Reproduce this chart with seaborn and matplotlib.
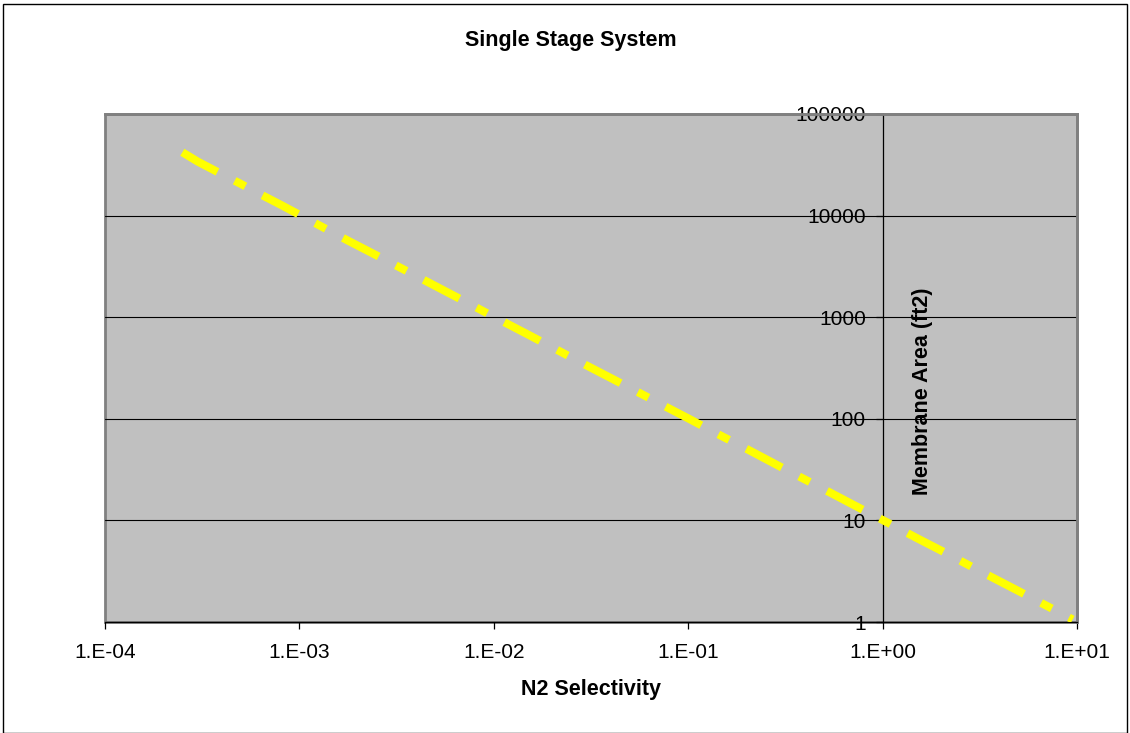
import matplotlib
matplotlib.use('Agg')
import matplotlib.pyplot as plt
import matplotlib.patches as mpatches
from matplotlib.ticker import FixedLocator, NullLocator
import seaborn as sns
import pandas as pd

# values
selectivity = [0.00025, 0.0003, 0.0004, 0.0005, 0.0006, 0.0008, 0.001, 0.0013,
               0.0018, 0.0025, 0.0035, 0.005, 0.007, 0.01, 0.015, 0.02, 0.03,
               0.05, 0.07, 0.1, 0.15, 0.2, 0.3, 0.5, 0.7, 1.0, 1.5, 2.0, 3.0,
               5.0, 7.0, 9.5]
membrane_area = [42000, 34000, 25500, 20500, 17000, 12800, 10200, 7800, 5600,
                 4050, 2900, 2030, 1450, 1010, 675, 505, 335, 202, 144, 101,
                 67, 50.5, 33.5, 20.2, 14.4, 10.1, 6.7, 5.05, 3.35, 2.02,
                 1.44, 1.06]

x_ticks = [1e-4, 1e-3, 1e-2, 1e-1, 1e0, 1e1]
x_tick_labels = ['1.E-04', '1.E-03', '1.E-02', '1.E-01', '1.E+00', '1.E+01']
y_ticks = [1, 10, 100, 1000, 10000, 100000]
y_tick_labels = ['1', '10', '100', '1000', '10000', '100000']

df = pd.DataFrame({'N2 Selectivity': selectivity, 'Membrane Area': membrane_area})

sns.set_style('white')
plt.rcParams['font.family'] = ['Liberation Sans', 'DejaVu Sans']
plt.rcParams['text.color'] = 'black'

fig = plt.figure(figsize=(11.3, 7.33), dpi=100)
ax = fig.add_axes([0.0929, 0.1514, 0.8602, 0.6931])
ax.set_facecolor('#C0C0C0')

sns.lineplot(data=df, x='N2 Selectivity', y='Membrane Area', ax=ax,
             color='#FFFF00', lw=5.8, sort=False, estimator=None, zorder=5)
line = ax.lines[-1]
line.set_linestyle((0, (5, 2.4, 1.5, 2.4)))
line.set_dash_capstyle('butt')

ax.set_xscale('log')
ax.set_yscale('log')
ax.set_xlim(1e-4, 10)
ax.set_ylim(1, 100000)

ax.xaxis.set_major_locator(FixedLocator(x_ticks))
ax.xaxis.set_minor_locator(NullLocator())
ax.set_xticklabels(x_tick_labels)
ax.yaxis.set_major_locator(FixedLocator(y_ticks))
ax.yaxis.set_minor_locator(NullLocator())
ax.set_yticklabels(y_tick_labels)

# horizontal gridlines only
ax.grid(axis='y', color='black', lw=0.8)
ax.grid(axis='x', visible=False)
ax.set_axisbelow(True)

# y axis crosses at x = 1
ax.spines['left'].set_position(('data', 1))
ax.spines['left'].set_color('black')
ax.spines['left'].set_linewidth(0.9)
ax.spines['bottom'].set_color('black')
ax.spines['bottom'].set_linewidth(0.9)
for side in ['top', 'right']:
    ax.spines[side].set_color('#808080')
    ax.spines[side].set_linewidth(2)
ax.add_patch(mpatches.Rectangle((0, 0), 1, 1, transform=ax.transAxes,
                                fill=False, edgecolor='#808080', lw=2,
                                zorder=0.5, clip_on=False))

ax.tick_params(axis='both', direction='out', length=5, width=0.9,
               colors='black', labelsize=15)
ax.tick_params(axis='x', pad=10, bottom=True)
ax.tick_params(axis='y', left=True, pad=7)

ax.set_xlabel('')
ax.set_ylabel('')
fig.text(0.523, 0.0587, 'N2 Selectivity', ha='center', va='center',
         fontsize=15.5, fontweight='bold')
fig.text(0.816, 0.466, 'Membrane Area (ft2)', ha='center', va='center',
         rotation=90, fontsize=15.5, fontweight='bold')
fig.text(0.505, 0.945, 'Single Stage System', ha='center', va='center',
         fontsize=15.5, fontweight='bold')

# outer chart border
fig.patches.append(mpatches.Rectangle((0.003, 0.0), 0.994, 0.995,
                                      transform=fig.transFigure, fill=False,
                                      edgecolor='black', lw=1))

fig.savefig('out.png', dpi=100)
